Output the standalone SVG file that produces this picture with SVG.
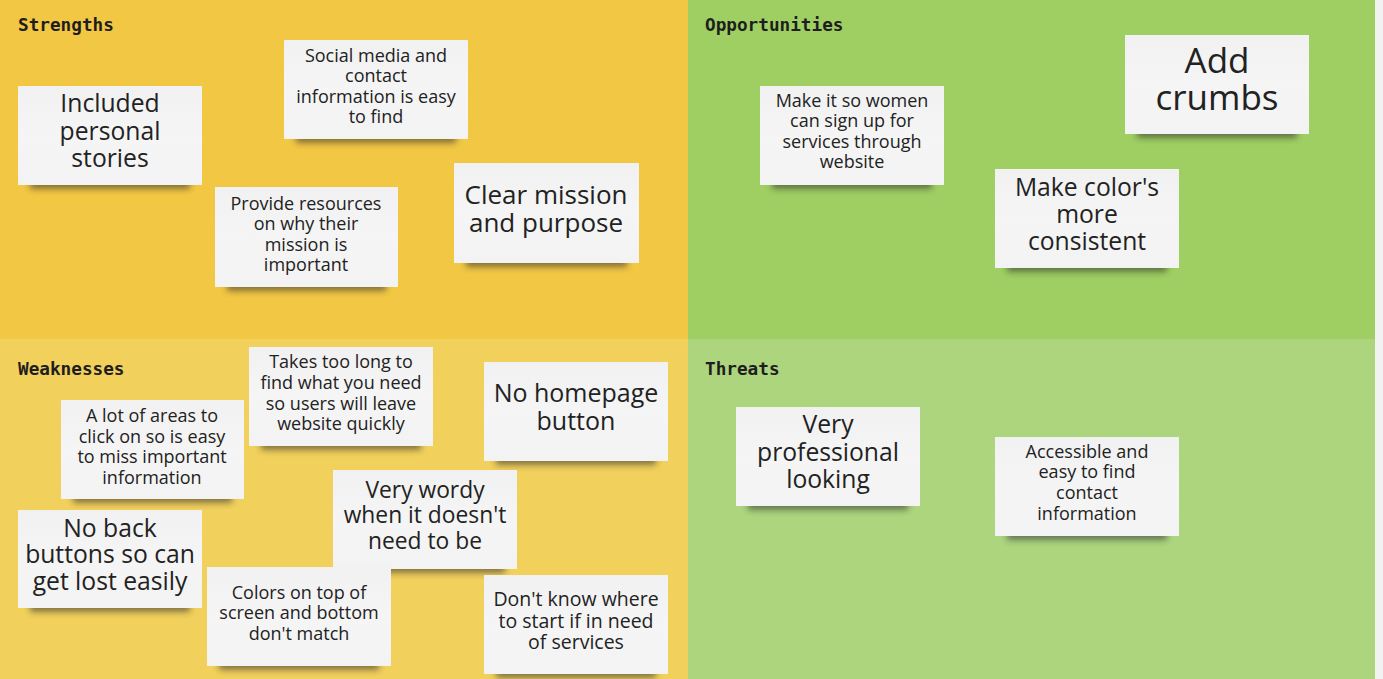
<svg xmlns="http://www.w3.org/2000/svg" width="1383" height="679" viewBox="0 0 1383 679">
  <defs>
    <filter id="soft" x="-20%" y="-100%" width="140%" height="300%">
      <feGaussianBlur stdDeviation="3"/>
    </filter>
    <linearGradient id="paper" x1="0" y1="0" x2="0" y2="1">
      <stop offset="0" stop-color="#f1f1f1"/>
      <stop offset="0.5" stop-color="#f5f5f5"/>
      <stop offset="1" stop-color="#f3f3f3"/>
    </linearGradient>
  </defs>
  <style>
    .head { font-family: "DejaVu Sans Mono", "Liberation Mono", monospace; font-weight: bold; font-size: 17.7px; fill: #1e1e1e; }
    .txt { font-family: "Open Sans", "Noto Sans", sans-serif; fill: #222222; text-anchor: middle; }
    .sm { font-size: 18px; }
    .lg { font-size: 24.7px; }
    .paper { fill: url(#paper); }
    .shadow { fill: #2a2a2a; opacity: 0.55; filter: url(#soft); }
  </style>

  <!-- board quadrants -->
  <g id="board">
    <rect x="0" y="0" width="1383" height="679" fill="#f2f2f2"/>
    <rect id="strengths-bg" x="0" y="0" width="688" height="339" fill="#f2c744"/>
    <rect id="opportunities-bg" x="688" y="0" width="687" height="339" fill="#9fcf63"/>
    <rect id="weaknesses-bg" x="0" y="339" width="688" height="340" fill="#f2d05c"/>
    <rect id="threats-bg" x="688" y="339" width="687" height="340" fill="#acd57e"/>
    <text class="head" x="18" y="31">Strengths</text>
    <text class="head" x="705" y="31">Opportunities</text>
    <text class="head" x="18" y="375">Weaknesses</text>
    <text class="head" x="705" y="375">Threats</text>
  </g>

  <!-- sticky notes -->
  <g id="note-included-stories">
    <rect class="shadow" x="30" y="175" width="160" height="14"/>
    <rect class="paper" x="18" y="86" width="184" height="99"/>
    <text class="txt lg"><tspan x="110" y="112">Included</tspan><tspan x="110" y="140">personal</tspan><tspan x="110" y="167">stories</tspan></text>
  </g>
  <g id="note-social-media">
    <rect class="shadow" x="296" y="129" width="160" height="14"/>
    <rect class="paper" x="284" y="40" width="184" height="99"/>
    <text class="txt sm"><tspan x="376" y="62">Social media and</tspan><tspan x="376" y="82">contact</tspan><tspan x="376" y="103">information is easy</tspan><tspan x="376" y="123">to find</tspan></text>
  </g>
  <g id="note-provide-resources">
    <rect class="shadow" x="227" y="277" width="159" height="14"/>
    <rect class="paper" x="215" y="187" width="183" height="100"/>
    <text class="txt sm"><tspan x="306" y="210">Provide resources</tspan><tspan x="306" y="230">on why their</tspan><tspan x="306" y="251">mission is</tspan><tspan x="306" y="271">important</tspan></text>
  </g>
  <g id="note-clear-mission">
    <rect class="shadow" x="466" y="253" width="161" height="14"/>
    <rect class="paper" x="454" y="163" width="185" height="100"/>
    <text class="txt" font-size="26"><tspan x="546" y="204">Clear mission</tspan><tspan x="546" y="232">and purpose</tspan></text>
  </g>
  <g id="note-women-sign-up">
    <rect class="shadow" x="772" y="175" width="160" height="14"/>
    <rect class="paper" x="760" y="86" width="184" height="99"/>
    <text class="txt sm"><tspan x="852" y="107">Make it so women</tspan><tspan x="852" y="127">can sign up for</tspan><tspan x="852" y="148">services through</tspan><tspan x="852" y="168">website</tspan></text>
  </g>
  <g id="note-add-crumbs">
    <rect class="shadow" x="1137" y="124" width="160" height="14"/>
    <rect class="paper" x="1125" y="35" width="184" height="99"/>
    <text class="txt" font-size="35"><tspan x="1217" y="73">Add</tspan><tspan x="1217" y="110">crumbs</tspan></text>
  </g>
  <g id="note-consistent-colors">
    <rect class="shadow" x="1007" y="258" width="160" height="14"/>
    <rect class="paper" x="995" y="169" width="184" height="99"/>
    <text class="txt lg"><tspan x="1087" y="196">Make color's</tspan><tspan x="1087" y="223">more</tspan><tspan x="1087" y="250">consistent</tspan></text>
  </g>
  <g id="note-takes-too-long">
    <rect class="shadow" x="261" y="436" width="160" height="14"/>
    <rect class="paper" x="249" y="347" width="184" height="99"/>
    <text class="txt sm"><tspan x="341" y="368">Takes too long to</tspan><tspan x="341" y="389">find what you need</tspan><tspan x="341" y="410">so users will leave</tspan><tspan x="341" y="430">website quickly</tspan></text>
  </g>
  <g id="note-homepage-button">
    <rect class="shadow" x="496" y="451" width="160" height="14"/>
    <rect class="paper" x="484" y="362" width="184" height="99"/>
    <text class="txt" font-size="25"><tspan x="576" y="402">No homepage</tspan><tspan x="576" y="430">button</tspan></text>
  </g>
  <g id="note-many-areas">
    <rect class="shadow" x="73" y="489" width="159" height="14"/>
    <rect class="paper" x="61" y="400" width="183" height="99"/>
    <text class="txt sm"><tspan x="152" y="422">A lot of areas to</tspan><tspan x="152" y="443">click on so is easy</tspan><tspan x="152" y="463">to miss important</tspan><tspan x="152" y="484">information</tspan></text>
  </g>
  <g id="note-very-wordy">
    <rect class="shadow" x="345" y="559" width="160" height="14"/>
    <rect class="paper" x="333" y="470" width="184" height="99"/>
    <text class="txt" font-size="22.8"><tspan x="425" y="498">Very wordy</tspan><tspan x="425" y="523">when it doesn't</tspan><tspan x="425" y="549">need to be</tspan></text>
  </g>
  <g id="note-no-back-buttons">
    <rect class="shadow" x="30" y="598" width="160" height="14"/>
    <rect class="paper" x="18" y="510" width="184" height="98"/>
    <text class="txt lg"><tspan x="110" y="537">No back</tspan><tspan x="110" y="563">buttons so can</tspan><tspan x="110" y="590">get lost easily</tspan></text>
  </g>
  <g id="note-colors-mismatch">
    <rect class="shadow" x="219" y="656" width="160" height="14"/>
    <rect class="paper" x="207" y="567" width="184" height="99"/>
    <text class="txt sm"><tspan x="299" y="599">Colors on top of</tspan><tspan x="299" y="619">screen and bottom</tspan><tspan x="299" y="640">don't match</tspan></text>
  </g>
  <g id="note-where-to-start">
    <rect class="shadow" x="496" y="664" width="160" height="14"/>
    <rect class="paper" x="484" y="575" width="184" height="99"/>
    <text class="txt" font-size="19.5"><tspan x="576" y="606">Don't know where</tspan><tspan x="576" y="628">to start if in need</tspan><tspan x="576" y="649">of services</tspan></text>
  </g>
  <g id="note-professional">
    <rect class="shadow" x="748" y="496" width="160" height="14"/>
    <rect class="paper" x="736" y="407" width="184" height="99"/>
    <text class="txt lg"><tspan x="828" y="433">Very</tspan><tspan x="828" y="461">professional</tspan><tspan x="828" y="488">looking</tspan></text>
  </g>
  <g id="note-accessible-contact">
    <rect class="shadow" x="1007" y="526" width="160" height="14"/>
    <rect class="paper" x="995" y="437" width="184" height="99"/>
    <text class="txt sm"><tspan x="1087" y="458">Accessible and</tspan><tspan x="1087" y="478">easy to find</tspan><tspan x="1087" y="499">contact</tspan><tspan x="1087" y="520">information</tspan></text>
  </g>

  <!-- no connectors on this board -->
  <g id="connectors"/>
</svg>
